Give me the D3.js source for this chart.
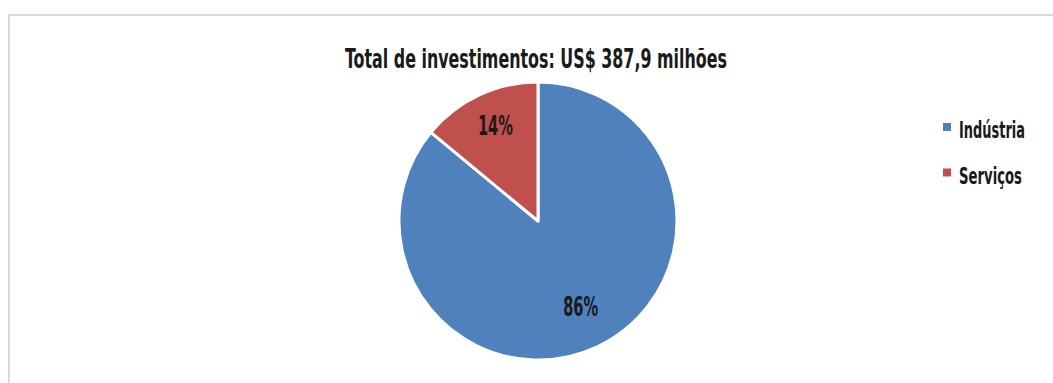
<!DOCTYPE html>
<html>
<head>
<meta charset="utf-8">
<script src="https://cdn.jsdelivr.net/npm/d3@7"></script>
<style>
  html, body { margin: 0; padding: 0; background: #fff; }
  svg { display: block; }
  text { font-family: "DejaVu Sans Condensed", "Liberation Sans Narrow", sans-serif; fill: #1a1a1a; font-weight: bold; }
</style>
</head>
<body>
<svg id="chart" width="1053" height="383"></svg>
<script>
const categories = ["Indústria", "Serviços"];
const shares = [86, 14];
const colors = ["#4F81BD", "#C0504D"];
const title = "Total de investimentos: US$ 387,9 milhões";

const svg = d3.select("#chart");

// condense a text element horizontally (scale about its anchor) to a target width
function condense(sel, w, ax, ay) {
  sel.each(function (d, i) {
    const el = d3.select(this);
    const target = typeof w === "function" ? w(d, i) : w;
    const natural = this.getComputedTextLength();
    const s = Math.min(1, target / natural);
    const x = typeof ax === "function" ? ax(d, i) : ax;
    const y = typeof ay === "function" ? ay(d, i) : ay;
    el.attr("transform", `translate(${x},${y}) scale(${s},1)`)
      .attr("x", 0).attr("y", 0);
  });
}

// chart frame
svg.append("rect")
  .attr("x", 9).attr("y", 15)
  .attr("width", 1060).attr("height", 400)
  .attr("fill", "none")
  .attr("stroke", "#d9d9d9")
  .attr("stroke-width", 2);

svg.append("text")
  .attr("text-anchor", "middle")
  .attr("font-size", 26)
  .text(title)
  .call(condense, 382, 536, 68);

const cx = 538, cy = 221, r = 139;
const data = categories.map((c, i) => ({ name: c, value: shares[i], color: colors[i] }));

const pie = d3.pie().value(d => d.value).sort(null);
const arc = d3.arc().innerRadius(0).outerRadius(r);
const labelArc = d3.arc().innerRadius(r * 0.72).outerRadius(r * 0.72);

const g = svg.append("g").attr("transform", `translate(${cx},${cy})`);
const arcs = pie(data);

g.selectAll("path.slice")
  .data(arcs)
  .join("path")
  .attr("class", "slice")
  .attr("d", arc)
  .attr("fill", d => d.data.color)
  .attr("stroke", "#fff")
  .attr("stroke-width", 3)
  .attr("stroke-linejoin", "round");

g.selectAll("text.lbl")
  .data(arcs)
  .join("text")
  .attr("class", "lbl")
  .attr("text-anchor", "middle")
  .attr("dy", "0.16em")
  .attr("font-size", 26)
  .text(d => d.data.value + "%")
  .call(condense, 35, d => labelArc.centroid(d)[0], d => labelArc.centroid(d)[1]);

// legend
const legend = svg.append("g").attr("transform", "translate(943,123)");
const items = legend.selectAll("g.item")
  .data(data)
  .join("g")
  .attr("class", "item")
  .attr("transform", (d, i) => `translate(0,${i * 45.5})`);
items.append("rect")
  .attr("x", 0).attr("y", 0)
  .attr("width", 8).attr("height", 8)
  .attr("fill", d => d.color);
items.append("text")
  .attr("font-size", 23)
  .text(d => d.name)
  .call(condense, d => d.name === "Indústria" ? 66 : 63, 16, 15);
</script>
</body>
</html>
